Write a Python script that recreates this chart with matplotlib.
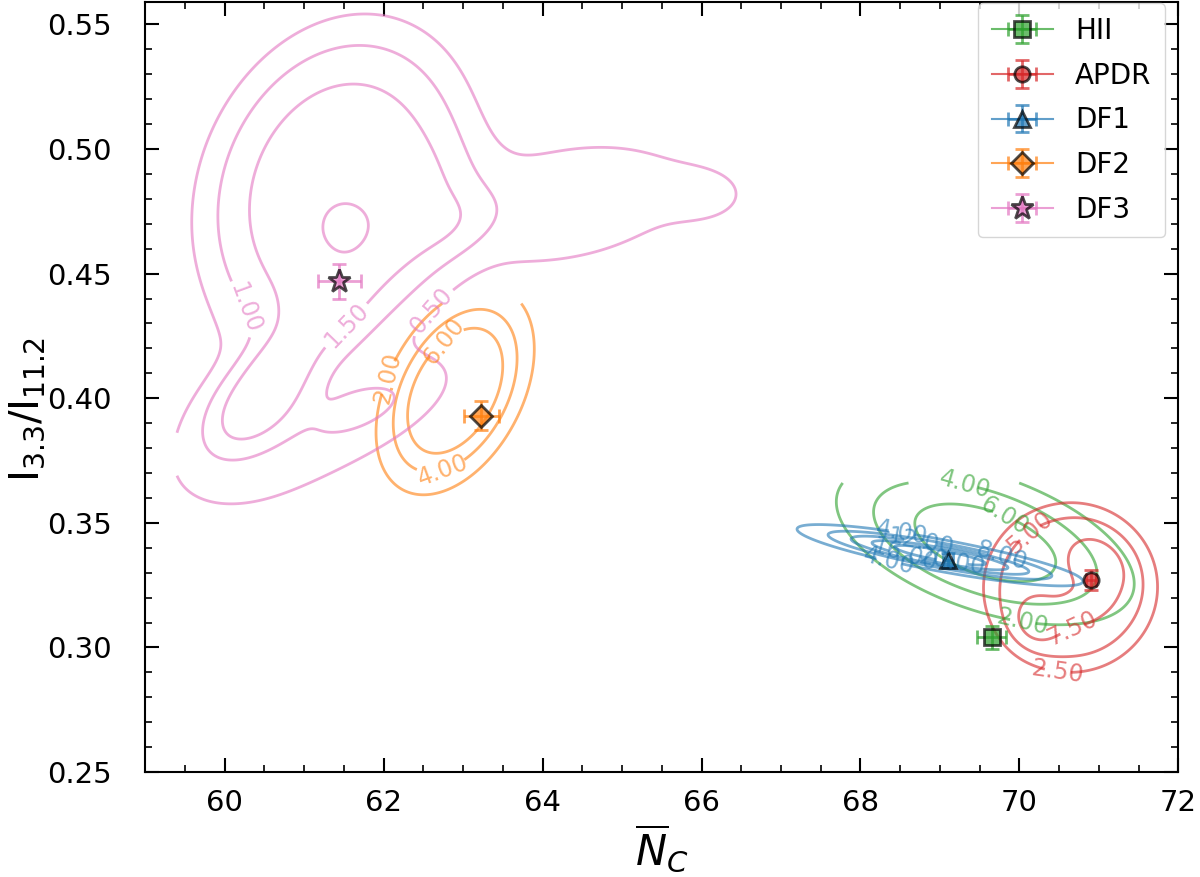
import numpy as np
import matplotlib
matplotlib.use("Agg")
import matplotlib.pyplot as plt
from matplotlib.ticker import MultipleLocator, FormatStrFormatter

# ---------------- data ----------------
names = ["HII", "APDR", "DF1", "DF2", "DF3"]
colors = ["#2ca02c", "#d62728", "#1f77b4", "#ff7f0e", "#e377c2"]
markers = ["s", "o", "^", "D", "*"]
nc_mean = [69.65, 70.90, 69.10, 63.23, 61.44]
ratio_mean = [0.304, 0.327, 0.335, 0.393, 0.447]
nc_err = [0.18, 0.06, 0.06, 0.22, 0.27]
ratio_err = [0.0045, 0.004, 0.003, 0.0057, 0.007]

# density models: N_C centre, ratio centre, sigma N_C, sigma ratio, corr, amplitude, flatness
hii_comp = [(69.57, 0.342, 1.35, 0.0237, -0.50, 7.0, 1.4)]
apdr_comp = [(70.64, 0.324, 0.98, 0.0305, 0.0, 6.5, 3.0),
             (70.20, 0.310, 0.22, 0.0075, 0.0, 2.6, 1.0),
             (70.75, 0.315, 0.28, 0.0055, 0.3, 2.0, 1.0),
             (71.00, 0.333, 0.28, 0.0090, -0.2, 2.6, 1.0)]
df1_comp = [(69.0, 0.337, 0.95, 0.0065, -0.85, 24.0, 1.0)]
df2_comp = [(62.9, 0.403, 0.62, 0.026, 0.40, 9.5, 1.2)]
df3_comp = [(61.40, 0.485, 1.44, 0.055, 0.2, 1.75, 2.0),
            (61.48, 0.469, 0.20, 0.007, 0.0, 0.35, 1.0),
            (60.40, 0.400, 0.55, 0.018, 0.5, 1.1, 1.5),
            (60.50, 0.385, 1.20, 0.030, 0.4, 0.75, 1.0),
            (61.10, 0.428, 0.45, 0.014, 0.5, 0.5, 1.0),
            (62.00, 0.398, 0.70, 0.014, 0.6, 0.7, 1.0),
            (64.30, 0.478, 1.40, 0.022, 0.3, 0.85, 1.0),
            (66.10, 0.481, 0.40, 0.008, 0.0, 0.35, 1.0),
            (63.00, 0.470, 0.35, 0.010, 0.3, 0.30, 1.0)]

hii_levels = [2.0, 4.0, 6.0]
apdr_levels = [2.5, 5.0, 7.5]
df1_levels = [4.0, 8.0, 12.0, 16.0, 20.0]
df2_levels = [2.0, 4.0, 6.0]
df3_levels = [0.5, 1.0, 1.5, 2.0]

# evaluation windows of each density map (N_C min, max, ratio min, max)
hii_win = (66.5, 72.0, 0.28, 0.366)
apdr_win = (68.5, 72.0, 0.27, 0.38)
df1_win = (67.2, 71.5, 0.30, 0.37)
df2_win = (60.5, 65.5, 0.33, 0.438)
df3_win = (59.4, 67.5, 0.33, 0.57)


def density(comps, win, n=400):
    x = np.linspace(win[0], win[1], n)
    y = np.linspace(win[2], win[3], n)
    X, Y = np.meshgrid(x, y)
    Z = np.zeros_like(X)
    for (mx, my, sx, sy, r, a, b) in comps:
        dx = (X - mx) / sx
        dy = (Y - my) / sy
        q = (dx ** 2 - 2 * r * dx * dy + dy ** 2) / (1 - r ** 2)
        Z += a * np.exp(-0.5 * q ** b)
    return X, Y, Z


plt.rcParams["font.family"] = ["DejaVu Sans"]
plt.rcParams["mathtext.fontset"] = "dejavusans"

fig = plt.figure(figsize=(12, 8.77), dpi=100)
ax = fig.add_axes([0.121, 0.1197, 0.861, 0.878])

# label anchor points per level (None = level drawn without label)
groups = [
    (hii_comp, hii_win, hii_levels, colors[0],
     [[(70.05, 0.311)], [(69.28, 0.3625)], [(69.76, 0.351)]]),
    (apdr_comp, apdr_win, apdr_levels, colors[1],
     [[(70.48, 0.290)], [(70.26, 0.342)], [(70.62, 0.310)]]),
    (df1_comp, df1_win, df1_levels, colors[2],
     [[(68.56, 0.352), (68.25, 0.324)], [(69.76, 0.336)], [(68.75, 0.342)],
      [(68.56, 0.337)], [(69.13, 0.331)]]),
    (df2_comp, df2_win, df2_levels, colors[3],
     [[(61.9, 0.409)], [(62.75, 0.371)], [(62.71, 0.4235)]]),
    (df3_comp, df3_win, df3_levels, colors[4],
     [[(62.84, 0.428)], [(59.92, 0.4307)], [(61.58, 0.4275)], None]),
]

for comps, win, levels, col, lab_pos in groups:
    X, Y, Z = density(comps, win)
    for lev, pos in zip(levels, lab_pos):
        cs = ax.contour(X, Y, Z, levels=[lev], colors=[col], linewidths=2.0, alpha=0.6)
        if pos:
            ax.clabel(cs, fmt="%.2f", fontsize=17, inline=True, manual=pos)

for i in range(5):
    ax.errorbar(nc_mean[i], ratio_mean[i], xerr=nc_err[i], yerr=ratio_err[i],
                fmt=markers[i], linestyle="-", color=colors[i], ecolor=colors[i],
                mec="k", mew=2, ms=17 if markers[i] == "*" else 11,
                elinewidth=2, capsize=5, alpha=0.7, label=names[i])

ax.set_xlim(59, 72)
ax.set_ylim(0.25, 0.559)
ax.xaxis.set_major_locator(MultipleLocator(2))
ax.xaxis.set_minor_locator(MultipleLocator(0.5))
ax.yaxis.set_major_locator(MultipleLocator(0.05))
ax.yaxis.set_minor_locator(MultipleLocator(0.01))
ax.yaxis.set_major_formatter(FormatStrFormatter("%.2f"))
ax.tick_params(which="both", direction="in", top=True, right=True, labelsize=21)
ax.tick_params(which="major", length=10, width=1.5)
ax.tick_params(which="minor", length=5, width=1.2)
ax.tick_params(axis="y", which="major", pad=24)
ax.tick_params(axis="x", which="major", pad=12)
for s in ax.spines.values():
    s.set_linewidth(1.5)

ax.set_xlabel(r"$\overline{N}_C$", fontsize=30)
ax.set_ylabel(r"$\mathrm{I_{3.3}/I_{11.2}}$", fontsize=29)
ax.yaxis.set_label_coords(-0.095, 0.47)

ax.legend(loc="upper right", bbox_to_anchor=(0.9874, 0.9987), borderaxespad=0,
          fontsize=20, borderpad=0.5, handlelength=2.2, labelspacing=0.6)

fig.savefig("out.png", dpi=100)
